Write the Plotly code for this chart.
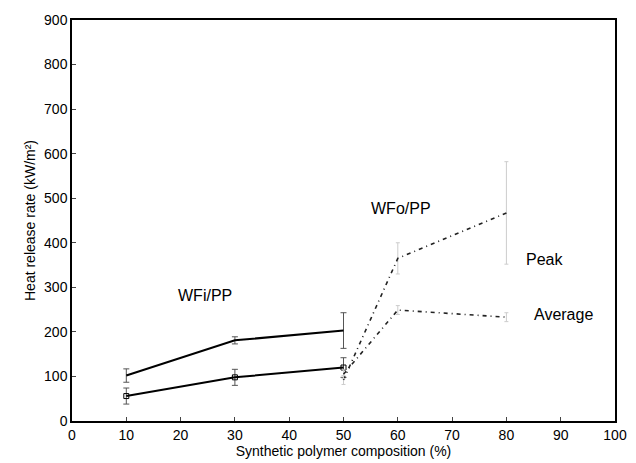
import plotly.graph_objects as go

# Data
x_wfi = [10, 30, 50]
peak_wfi = [102, 181, 203]
peak_wfi_err = [15, 8, 40]
avg_wfi = [56, 98, 120]
avg_wfi_err = [18, 18, 22]

x_wfo = [50, 60, 80]
peak_wfo = [92, 365, 467]
peak_wfo_err = [10, 35, 115]
avg_wfo = [105, 249, 233]
avg_wfo_err = [10, 10, 10]

x_ticks = [0, 10, 20, 30, 40, 50, 60, 70, 80, 90, 100]
y_ticks = [0, 100, 200, 300, 400, 500, 600, 700, 800, 900]

font = "Liberation Sans, Arial, sans-serif"

fig = go.Figure()

fig.add_trace(go.Scatter(
    x=x_wfi, y=peak_wfi, mode="lines",
    line=dict(color="black", width=2),
    error_y=dict(type="data", array=peak_wfi_err, color="#555", thickness=1, width=3),
    showlegend=False))
fig.add_trace(go.Scatter(
    x=x_wfi, y=avg_wfi, mode="lines+markers",
    line=dict(color="black", width=2),
    marker=dict(symbol="square-open", size=5, color="black"),
    error_y=dict(type="data", array=avg_wfi_err, color="#555", thickness=1, width=3),
    showlegend=False))
fig.add_trace(go.Scatter(
    x=x_wfo, y=peak_wfo, mode="lines",
    line=dict(color="#222", width=1.6, dash="4px,4px,1px,4px"),
    error_y=dict(type="data", array=peak_wfo_err, color="#ccc", thickness=1, width=2),
    showlegend=False))
fig.add_trace(go.Scatter(
    x=x_wfo, y=avg_wfo, mode="lines",
    line=dict(color="#222", width=1.6, dash="4px,4px,1px,4px"),
    error_y=dict(type="data", array=avg_wfo_err, color="#ccc", thickness=1, width=2),
    showlegend=False))

ann_font = dict(family=font, size=16, color="black")
fig.add_annotation(x=24.5, y=282, text="WFi/PP", showarrow=False, font=ann_font)
fig.add_annotation(x=60.5, y=478, text="WFo/PP", showarrow=False, font=ann_font)
fig.add_annotation(x=87, y=362, text="Peak", showarrow=False, font=ann_font)
fig.add_annotation(x=90.5, y=240, text="Average", showarrow=False, font=ann_font)

fig.update_layout(
    width=628, height=463,
    margin=dict(l=64, r=21, t=12, b=50),
    paper_bgcolor="white", plot_bgcolor="white",
    font=dict(family=font, size=14, color="black"),
    xaxis=dict(range=[0, 100], tickvals=x_ticks, ticks="inside", ticklen=4,
               showline=True, linecolor="black", linewidth=1.5, mirror=True,
               showgrid=False, zeroline=False, automargin=False,
               title=dict(text="Synthetic polymer composition (%)", standoff=4,
                          font=dict(size=14))),
    yaxis=dict(range=[0, 900], tickvals=y_ticks, ticks="inside", ticklen=4,
               showline=True, linecolor="black", linewidth=1.5, mirror=True,
               showgrid=False, zeroline=False, automargin=False,
               title=dict(text="Heat release rate (kW/m²)", standoff=5,
                          font=dict(size=14))),
)

fig.write_html("out.html")
